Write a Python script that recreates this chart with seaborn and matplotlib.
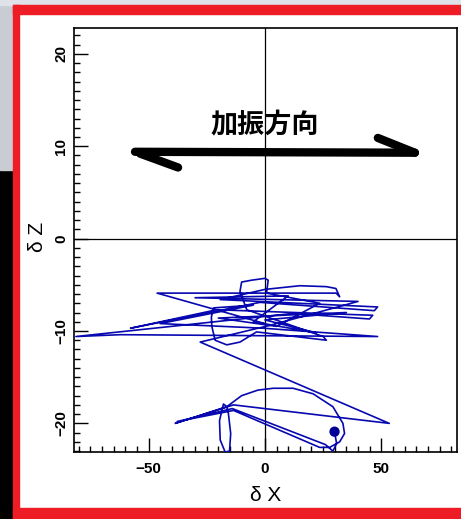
import numpy as np
import pandas as pd
import seaborn as sns
import matplotlib.pyplot as plt
from matplotlib.patches import Rectangle
from matplotlib.ticker import MultipleLocator

# trajectory of the point (delta X, delta Z) in order
traj_x = [0.0, -46.3, 30.6, 32.1, 30.5, 26.4, 15.0, 0.0, -19.2, 48.4, 47.0, -2.1,
          -57.7, -20.7, 46.3, 44.9, 12.1, -81.2, -62.0, 48.4, -0.7, -45.0, -5.0,
          -22.1, -23.0, -22.8, -21.4, -16.4, -10.7, -3.6, 26.4, 25.0, -7.8, -10.7,
          -10.0, -5.7, 0.0, 1.4, 0.7, 23.5, 5.0, -20.0, 35.0, 0.0, 22.0, -5.0, 10.0,
          -30.0, 40.0, 2.0, -27.8, 53.4, -13.5, -38.5, -16.4,
          -17.8, -19.5, -19.2, -17.1, -15.2, -14.7, -15.7, -16.4,
          -10.0, -3.0, 3.6, 12.1, 20.7, 29.2, 33.5, 34.2, 32.1, 27.8, 23.5, -13.5,
          -37.7, -14.0, 26.0, 29.2, 30.8, 29.9]
traj_z = [-9.2, -5.9, -5.9, -6.3, -5.4, -5.2, -5.1, -5.5, -6.6, -7.4, -7.8, -6.9,
          -9.7, -7.7, -8.3, -8.7, -8.1, -10.6, -10.4, -10.6, -9.7, -9.2, -7.2,
          -7.5, -8.5, -9.5, -11.0, -11.5, -11.2, -10.1, -11.0, -10.6, -7.7, -5.7,
          -4.7, -4.5, -4.3, -4.5, -5.9, -7.0, -9.5, -8.6, -8.0, -8.8, -10.2, -9.0, -6.2,
          -6.4, -6.8, -9.4, -11.2, -20.0, -18.0, -20.0, -18.2,
          -17.9, -19.7, -21.8, -23.1, -23.0, -21.1, -18.9, -18.2,
          -17.0, -16.4, -16.2, -16.2, -16.8, -18.2, -20.0, -21.1, -22.0, -22.6, -22.6, -18.6,
          -19.8, -18.4, -22.3, -23.0, -22.2, -20.9]

# excitation-direction arrow (shaft plus the two half heads)
arrow_shaft_x = [-55.8, 64.4]
arrow_shaft_z = [9.4, 9.3]
arrow_left_x = [-53.6, -37.3]
arrow_left_z = [9.2, 7.7]
arrow_right_x = [48.5, 64.4]
arrow_right_z = [10.9, 9.3]
arrow_label = "加振方向"

W, H = 461, 519
sns.set_theme(style="white")
plt.rcParams['font.family'] = ['Liberation Sans', 'DejaVu Sans']
plt.rcParams['text.color'] = 'black'
plt.rcParams['axes.labelcolor'] = 'black'

fig = plt.figure(figsize=(W / 100, H / 100), dpi=100)
fig.patch.set_facecolor("white")


def fx(px):
    return px / W


def fy(py):
    return 1 - py / H


# screenshot surroundings: window bits on the left and the red frame
fig.patches.append(Rectangle((0, fy(519)), fx(14), fy(170) - fy(519),
                             transform=fig.transFigure, color="black", zorder=0))
fig.patches.append(Rectangle((0, fy(170)), fx(14), fy(0) - fy(170),
                             transform=fig.transFigure, color="#c9ccd2", zorder=0))
fig.patches.append(Rectangle((0, fy(5)), 1, fy(0) - fy(5),
                             transform=fig.transFigure, color="#dfe2e8", zorder=0))
fig.patches.append(Rectangle((fx(13), fy(14)), 1, fy(5) - fy(14),
                             transform=fig.transFigure, color="#ee1c25", zorder=1))
fig.patches.append(Rectangle((fx(13), fy(519)), fx(6), fy(5) - fy(519),
                             transform=fig.transFigure, color="#ee1c25", zorder=1))
fig.patches.append(Rectangle((fx(13), fy(519)), 1, fy(508) - fy(519),
                             transform=fig.transFigure, color="#ee1c25", zorder=1))

ax = fig.add_axes([fx(74), fy(452), fx(457) - fx(74), fy(28) - fy(452)])
ax.set_facecolor("white")

df = pd.DataFrame({"dx": traj_x, "dz": traj_z})
sns.lineplot(data=df, x="dx", y="dz", sort=False, estimator=None,
             color="#0808b0", lw=1.2, ax=ax, zorder=3)
sns.scatterplot(x=traj_x[-1:], y=traj_z[-1:], color="#000099", s=55,
                edgecolor="none", ax=ax, zorder=4)

ax.axvline(0, color="black", lw=0.9, zorder=2)
ax.axhline(0, color="black", lw=0.9, zorder=2)

for xs, zs in [(arrow_shaft_x, arrow_shaft_z), (arrow_left_x, arrow_left_z),
               (arrow_right_x, arrow_right_z)]:
    ax.plot(xs, zs, color="black", lw=6, solid_capstyle="round", zorder=5)
ax.text(0, 12.2, arrow_label, ha="center", va="center", fontsize=19.5,
        fontweight="bold", color="black",
        family=["Noto Sans CJK JP", "DejaVu Sans"], zorder=6)

ax.set_xlim(-82, 82.5)
ax.set_ylim(-23.1, 22.8)

ax.xaxis.set_major_locator(MultipleLocator(50))
ax.xaxis.set_minor_locator(MultipleLocator(5))
ax.yaxis.set_major_locator(MultipleLocator(10))
ax.yaxis.set_minor_locator(MultipleLocator(1))
ax.tick_params(which="both", direction="in", colors="black", bottom=True, left=True,
               top=False, right=False, width=1.0)
ax.tick_params(which="major", length=10)
ax.tick_params(which="minor", length=4.5)
ax.tick_params(axis="x", which="major", pad=7, labelsize=11)
ax.tick_params(axis="y", which="major", pad=4, labelsize=11)
for lab in ax.get_yticklabels():
    lab.set_rotation(90)
    lab.set_va("center")
for lab in ax.get_xticklabels() + ax.get_yticklabels():
    lab.set_fontweight("bold")

for sp in ax.spines.values():
    sp.set_color("black")
    sp.set_linewidth(1.2)

ax.set_xlabel("δ X", fontsize=15)
ax.set_ylabel("δ Z", fontsize=15)
ax.xaxis.set_label_coords(0.5, -0.102)
ax.xaxis.label.set_va("center")
ax.yaxis.set_label_coords(-0.094, 0.507)
ax.yaxis.label.set_va("center")

fig.savefig("out.png", dpi=100)
